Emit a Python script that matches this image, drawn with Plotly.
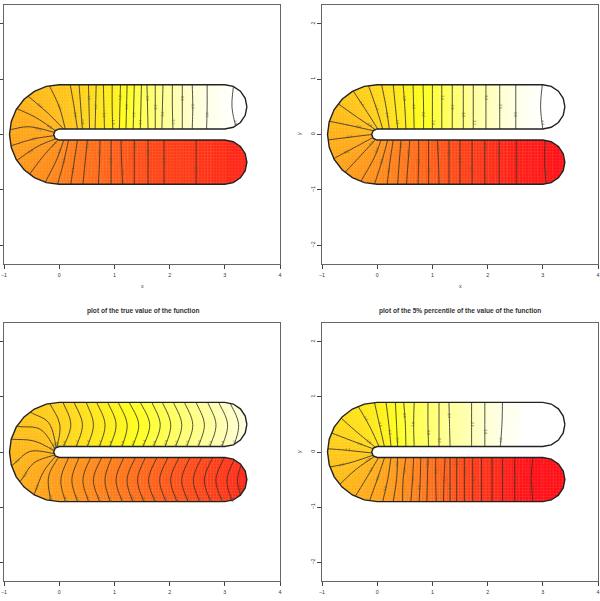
import math
import numpy as np
import plotly.graph_objects as go

# Outline of the horseshoe domain, starting at the tip of the upper arm and going clockwise.
OUTLINE = [
    (3.4, 0.5), (3.370, 0.347), (3.283, 0.217), (3.153, 0.130), (3.0, 0.1),
    (0.0, 0.1), (-0.071, 0.071), (-0.1, 0.0), (-0.071, -0.071), (0.0, -0.1),
    (3.0, -0.1), (3.153, -0.130), (3.283, -0.217), (3.370, -0.347), (3.4, -0.5),
    (3.370, -0.653), (3.283, -0.783), (3.153, -0.870), (3.0, -0.9),
    (0.0, -0.9), (-0.233, -0.869), (-0.45, -0.779), (-0.636, -0.636), (-0.779, -0.45),
    (-0.869, -0.233), (-0.9, 0.0), (-0.869, 0.233), (-0.779, 0.45), (-0.636, 0.636),
    (-0.45, 0.779), (-0.233, 0.869), (0.0, 0.9),
    (3.0, 0.9), (3.153, 0.870), (3.283, 0.783), (3.370, 0.653), (3.4, 0.5),
]

# Arm contours are (x at the outer edge, x on the centre line, x at the slit edge).
ARM_Y = (0.9, 0.5, 0.1)

# Upper left panel
P1_BOTTOM = [(2.48, 2.48, 2.48), (1.90, 1.90, 1.90), (1.61, 1.61, 1.61), (1.36, 1.36, 1.36),
             (1.15, 1.13, 1.12), (0.94, 0.94, 0.94), (0.71, 0.73, 0.74), (0.43, 0.47, 0.51),
             (0.21, 0.27, 0.33), (-0.03, 0.08, 0.17)]
P1_ARC = [
    [(-0.24, -0.84), (-0.04, -0.44), (0.08, -0.11)],
    [(-0.53, -0.71), (-0.28, -0.38), (-0.03, -0.11)],
    [(-0.74, -0.45), (-0.40, -0.22), (-0.07, -0.08)],
    [(-0.86, -0.20), (-0.46, -0.08), (-0.09, -0.02)],
    [(-0.87, 0.09), (-0.56, 0.14), (-0.09, 0.04)],
    [(-0.75, 0.46), (-0.43, 0.31), (-0.07, 0.07)],
    [(-0.56, 0.69), (-0.22, 0.40), (0.05, 0.13)],
    [(-0.18, 0.89), (0.0, 0.50), (0.11, 0.10)],
]
P1_TOP = [(0.20, 0.27, 0.33), (0.36, 0.39, 0.42), (0.53, 0.54, 0.55), (0.67, 0.66, 0.65),
          (0.80, 0.81, 0.82), (0.96, 0.96, 0.97), (1.11, 1.10, 1.09), (1.23, 1.22, 1.21),
          (1.36, 1.35, 1.34), (1.49, 1.48, 1.47), (1.59, 1.60, 1.61), (1.74, 1.74, 1.74),
          (1.88, 1.87, 1.86), (2.05, 2.05, 2.06), (2.23, 2.23, 2.23), (2.41, 2.42, 2.41),
          (2.68, 2.68, 2.67), (3.16, 3.13, 3.21)]
P1_LEVELS = [-3.0, -2.8, -2.6, -2.4, -2.2, -2.0, -1.8, -1.6, -1.4, -1.2, -1.0, -0.8,
             -0.6, -0.4, -0.2, 0.0, 0.2, 0.4, 0.6, 0.8, 1.0, 1.2, 1.4, 1.6, 1.8, 2.0,
             2.2, 2.4, 2.6, 2.8, 3.0, 3.2, 3.4, 3.6, 3.8, 4.0]
P1_ZLIM = (-4.0, 4.0)

# Upper right panel
P2_BOTTOM = [(3.06, 3.03, 3.04), (2.52, 2.52, 2.52), (2.21, 2.21, 2.21), (1.95, 1.95, 1.95),
             (1.72, 1.72, 1.72), (1.50, 1.50, 1.50), (1.30, 1.30, 1.30), (1.12, 1.11, 1.09),
             (0.93, 0.93, 0.93), (0.74, 0.75, 0.75), (0.53, 0.56, 0.59), (0.37, 0.40, 0.43),
             (0.18, 0.23, 0.29), (-0.05, 0.08, 0.19)]
P2_ARC = [
    [(-0.28, -0.82), (-0.05, -0.41), (0.07, -0.10)],
    [(-0.56, -0.66), (-0.27, -0.35), (-0.02, -0.08)],
    [(-0.76, -0.42), (-0.42, -0.24), (-0.07, -0.05)],
    [(-0.90, -0.10), (-0.51, -0.05), (-0.10, 0.0)],
    [(-0.87, 0.24), (-0.48, 0.16), (-0.08, 0.07)],
    [(-0.70, 0.55), (-0.36, 0.31), (-0.05, 0.10)],
    [(-0.43, 0.78), (-0.18, 0.40), (0.01, 0.10)],
    [(-0.16, 0.89), (-0.02, 0.49), (0.10, 0.10)],
]
P2_TOP = [(0.08, 0.16, 0.22), (0.29, 0.33, 0.37), (0.47, 0.50, 0.52), (0.65, 0.66, 0.67),
          (0.83, 0.84, 0.84), (1.00, 1.00, 1.00), (1.17, 1.17, 1.17), (1.36, 1.36, 1.36),
          (1.56, 1.56, 1.56), (1.74, 1.74, 1.74), (1.97, 1.97, 1.97), (2.22, 2.22, 2.22),
          (2.51, 2.51, 2.51), (2.99, 2.96, 3.00)]
P2_LEVELS = P1_LEVELS
P2_ZLIM = (-3.15, 3.99)

# Lower left panel: the true function, whose contours arch across the arms
P3_BOTTOM = [(3.32, 3.23, 3.35), (3.13, 3.04, 3.19), (2.95, 2.84, 2.99), (2.74, 2.63, 2.78),
             (2.54, 2.43, 2.58), (2.33, 2.22, 2.37), (2.13, 2.02, 2.17), (1.93, 1.82, 1.97),
             (1.73, 1.62, 1.77), (1.53, 1.42, 1.56), (1.33, 1.23, 1.38), (1.14, 1.03, 1.17),
             (0.92, 0.83, 0.95), (0.73, 0.62, 0.77), (0.53, 0.43, 0.57), (0.33, 0.23, 0.36),
             (0.11, 0.03, 0.17)]
P3_ARC = [
    [(-0.16, -0.87), (-0.19, -0.44), (-0.01, -0.09)],
    [(-0.43, -0.71), (-0.28, -0.35), (-0.05, -0.06)],
    [(-0.66, -0.47), (-0.46, -0.20), (-0.07, -0.05)],
    [(-0.80, -0.20), (-0.53, 0.01), (-0.09, -0.03)],
    [(-0.84, 0.23), (-0.46, 0.20), (-0.08, 0.02)],
    [(-0.71, 0.46), (-0.34, 0.41), (-0.07, 0.05)],
    [(-0.48, 0.70), (-0.19, 0.53), (-0.05, 0.06)],
    [(-0.16, 0.86), (0.01, 0.50), (-0.04, 0.08)],
]
P3_TOP = [(0.07, 0.21, 0.08), (0.27, 0.42, 0.31), (0.49, 0.62, 0.51), (0.68, 0.83, 0.73),
          (0.88, 1.03, 0.92), (1.07, 1.23, 1.14), (1.27, 1.44, 1.33), (1.47, 1.64, 1.52),
          (1.68, 1.83, 1.71), (1.87, 2.02, 1.92), (2.07, 2.22, 2.11), (2.27, 2.42, 2.31),
          (2.48, 2.63, 2.52), (2.69, 2.84, 2.73), (2.89, 3.05, 2.95), (3.09, 3.25, 3.16)]
P3_LEVELS = [-4.0, -3.8, -3.6, -3.4, -3.2, -3.0, -2.8, -2.6, -2.4, -2.2, -2.0, -1.8, -1.6,
             -1.4, -1.2, -1.0, -0.8, -0.6, -0.4, -0.2, 0.0, 0.2, 0.4, 0.6, 0.8, 1.0, 1.2,
             1.4, 1.6, 1.8, 2.0, 2.2, 2.4, 2.6, 2.8, 3.0, 3.2, 3.4, 3.6, 3.8, 4.0]
P3_ZLIM = (-4.78, 4.52)

# Lower right panel: the 5% percentile
P4_BOTTOM = [(2.82, 2.79, 2.82), (2.49, 2.49, 2.49), (2.27, 2.27, 2.27), (2.08, 2.08, 2.08),
             (1.89, 1.89, 1.89), (1.73, 1.73, 1.73), (1.58, 1.58, 1.58), (1.44, 1.44, 1.44),
             (1.32, 1.32, 1.32), (1.20, 1.21, 1.23), (1.07, 1.06, 1.06), (0.90, 0.91, 0.92),
             (0.76, 0.78, 0.79), (0.61, 0.64, 0.66), (0.46, 0.47, 0.52), (0.29, 0.35, 0.37),
             (0.10, 0.19, 0.25)]
P4_ARC = [
    [(-0.14, -0.89), (0.01, -0.47), (0.13, -0.11)],
    [(-0.40, -0.81), (-0.18, -0.45), (0.02, -0.11)],
    [(-0.68, -0.59), (-0.39, -0.32), (-0.05, -0.08)],
    [(-0.84, -0.27), (-0.51, -0.20), (-0.08, -0.06)],
    [(-0.90, 0.06), (-0.54, 0.03), (-0.08, -0.02)],
    [(-0.84, 0.35), (-0.45, 0.20), (-0.08, 0.06)],
    [(-0.66, 0.62), (-0.39, 0.38), (-0.05, 0.10)],
    [(-0.34, 0.82), (-0.14, 0.47), (0.02, 0.13)],
]
P4_TOP = [(-0.05, 0.04, 0.13), (0.16, 0.21, 0.25), (0.33, 0.35, 0.37), (0.48, 0.51, 0.52),
          (0.67, 0.66, 0.67), (0.92, 0.92, 0.93), (1.12, 1.12, 1.12), (1.30, 1.31, 1.32),
          (1.71, 1.71, 1.71), (1.95, 1.95, 1.95), (2.27, 2.26, 2.23)]
P4_LEVELS = P1_LEVELS
P4_ZLIM = (-2.96, 4.18)

X_TICKS = [-1, 0, 1, 2, 3, 4]
Y_TICKS = [-2, -1, 0, 1, 2]
TITLE_LOWER_LEFT = "plot of the true value of the function"
TITLE_LOWER_RIGHT = "plot of the 5% percentile of the value of the function"

W, H = 600, 601
Y_MAX = 2.34
FRAMES = [(4, 280, 5, 264), (322, 598, 5, 264), (4, 280, 323, 581), (322, 598, 323, 581)]
PANELS = [
    (P1_BOTTOM, P1_ARC, P1_TOP, P1_LEVELS, P1_ZLIM),
    (P2_BOTTOM, P2_ARC, P2_TOP, P2_LEVELS, P2_ZLIM),
    (P3_BOTTOM, P3_ARC, P3_TOP, P3_LEVELS, P3_ZLIM),
    (P4_BOTTOM, P4_ARC, P4_TOP, P4_LEVELS, P4_ZLIM),
]
SHADE_STEPS = 4
END_SHADE = 0.08
SMOOTH = 1.1


def heat(t):
    """Red through yellow to white, like R's heat.colors."""
    t = min(max(t, 0.0), 1.0)
    if t < 0.75:
        return f"rgb(255,{round(12 + 243 * t / 0.75)},18)"
    return f"rgb(255,255,{round(18 + 237 * (t - 0.75) / 0.25)})"


def arm_line(xs, sign):
    return [(x, sign * y) for x, y in zip(xs, ARM_Y)]


def overshoot(line, outer=0.1, inner=0.05):
    """Run a contour slightly past the outline; the white mask trims it back."""
    def step(a, b, d):
        n = math.hypot(b[0] - a[0], b[1] - a[1]) or 1.0
        return (b[0] + (b[0] - a[0]) / n * d, b[1] + (b[1] - a[1]) / n * d)
    return [step(line[1], line[0], outer)] + list(line) + [step(line[-2], line[-1], inner)]


def blend(a, b, f):
    return [(p[0] + (q[0] - p[0]) * f, p[1] + (q[1] - p[1]) * f) for p, q in zip(a, b)]


fig = go.Figure()
annotations = []
layout_axes = {}

for idx, ((bottom, arc, top, levels, zlim), (x0, x1, y0, y1)) in enumerate(zip(PANELS, FRAMES)):
    suffix = "" if idx == 0 else str(idx + 1)
    xref, yref = f"x{suffix}", f"y{suffix}"
    right = idx in (1, 3)
    layout_axes[f"xaxis{suffix}"] = dict(
        domain=[x0 / W, x1 / W], range=[-1, 4], anchor=yref, tickvals=X_TICKS, automargin=False,
        ticks="outside", ticklen=4, tickwidth=1, tickcolor="#444", showgrid=False,
        zeroline=False, showline=True, mirror=True, linecolor="#666", linewidth=1,
        ticklabelstandoff=2, tickfont=dict(size=5.3, color="#333", family="Liberation Sans"),
    )
    layout_axes[f"yaxis{suffix}"] = dict(
        domain=[1 - y1 / H, 1 - y0 / H], range=[-Y_MAX, Y_MAX], anchor=xref, tickvals=Y_TICKS,
        automargin=False, ticks="outside", ticklen=4, tickwidth=1, tickcolor="#444", showgrid=False,
        zeroline=False, showline=True, mirror=True, linecolor="#666", linewidth=1,
        showticklabels=right, tickangle=-90,
        tickfont=dict(size=5.3, color="#333", family="Liberation Sans"),
    )

    lines = [arm_line(c, -1) for c in bottom] + [list(c) for c in arc] + [arm_line(c, 1) for c in top]
    n_low, n_arc = len(bottom), len(arc)
    shade = [(v - zlim[0]) / (zlim[1] - zlim[0]) for v in levels]
    drawn = [overshoot(c) for c in lines]

    # Colour between neighbouring contours, shaded in narrow steps so the ramp reads as smooth.
    low_end = [(3.6, y) for y in (-1.0, -0.9, -0.5, -0.1, -0.05)]
    top_end = [(3.6, y) for y in (1.0, 0.9, 0.5, 0.1, 0.05)]
    ring = [low_end] + drawn + [top_end]
    ring_shade = [shade[0] - END_SHADE] + shade + [shade[-1] + END_SHADE]
    for k in range(len(ring) - 1):
        for s in range(SHADE_STEPS):
            edge_a = blend(ring[k], ring[k + 1], s / SHADE_STEPS)
            edge_b = blend(ring[k], ring[k + 1], (s + 1) / SHADE_STEPS)
            poly = edge_a + edge_b[::-1]
            colour = heat(ring_shade[k] + (ring_shade[k + 1] - ring_shade[k]) * (s + 0.5) / SHADE_STEPS)
            xs, ys = zip(*poly)
            fig.add_trace(go.Scatter(x=xs, y=ys, mode="lines", fill="toself", fillcolor=colour,
                                     line=dict(width=0.6, color=colour, shape="spline", smoothing=SMOOTH),
                                     hoverinfo="skip", xaxis=xref, yaxis=yref, showlegend=False))

    # Faint lattice left by the coarse image grid underneath the contours.
    gx, gy = [], []
    for gv in np.arange(-0.92, 3.42, 0.0555):
        gx += [float(gv), float(gv), None]
        gy += [-0.92, 0.92, None]
    for gv in np.arange(-0.92, 0.92, 0.0555):
        gx += [-0.92, 3.42, None]
        gy += [float(gv), float(gv), None]
    fig.add_trace(go.Scatter(x=gx, y=gy, mode="lines", line=dict(color="white", width=0.7),
                             opacity=0.13, hoverinfo="skip", xaxis=xref, yaxis=yref, showlegend=False))

    # Contour lines
    cx, cy = [], []
    for c in drawn:
        cx += [p[0] for p in c] + [None]
        cy += [p[1] for p in c] + [None]
    fig.add_trace(go.Scatter(x=cx, y=cy, mode="lines",
                             line=dict(color="#33332a", width=0.85, shape="spline", smoothing=SMOOTH),
                             hoverinfo="skip", xaxis=xref, yaxis=yref, showlegend=False))

    # White surround with a keyhole cut along the outline
    mx = [4.0, 4.0, -1.0, -1.0, 4.0, 4.0] + [p[0] for p in OUTLINE] + [4.0]
    my = [0.5, Y_MAX, Y_MAX, -Y_MAX, -Y_MAX, 0.5] + [p[1] for p in OUTLINE] + [0.5]
    fig.add_trace(go.Scatter(x=mx, y=my, mode="lines", fill="toself", fillcolor="white",
                             line=dict(width=0), hoverinfo="skip", xaxis=xref, yaxis=yref, showlegend=False))
    fig.add_trace(go.Scatter(x=[p[0] for p in OUTLINE], y=[p[1] for p in OUTLINE], mode="lines",
                             line=dict(color="#222", width=1.4), hoverinfo="skip",
                             xaxis=xref, yaxis=yref, showlegend=False))

    # Contour labels, set along the line
    for j, (c, v) in enumerate(zip(lines, levels)):
        if idx == 2 and j > 0:
            # the true function carries its labels towards the arm edges
            if j < n_low + n_arc // 2:
                a, b = c[0], c[1]
                share = 0.15
            else:
                a, b = c[-2], c[-1]
                share = 0.85
        else:
            a, b = c[0], c[1]
            share = (0.6, 1.0, 1.35, 1.7)[j % 4]
            if share > 1.0:
                a, b = c[1], c[2]
                share -= 1.0
        px, py = a[0] + (b[0] - a[0]) * share, a[1] + (b[1] - a[1]) * share
        angle = -math.degrees(math.atan2(b[1] - a[1], b[0] - a[0]))
        if angle > 90:
            angle -= 180
        elif angle < -90:
            angle += 180
        annotations.append(dict(x=px, y=py, xref=xref, yref=yref, text=f"{v:.1f}".replace("-", "\u2212"),
                                showarrow=False, textangle=angle,
                                font=dict(size=3.6, color="#5a5a38", family="Liberation Sans")))


def page_text(x, y, text, size=5.3, bold=False, angle=0):
    annotations.append(dict(x=x / W, y=1 - y / H, xref="paper", yref="paper", text=f"<b>{text}</b>" if bold else text,
                            showarrow=False, textangle=angle, xanchor="center", yanchor="middle",
                            font=dict(size=size, color="#333", family="Liberation Sans")))


page_text(142, 286, "x")
page_text(460, 286, "x")
page_text(299, 134, "y", angle=-90)
page_text(299, 452, "y", angle=-90)
page_text(143, 311, TITLE_LOWER_LEFT, size=6.6, bold=True)
page_text(460, 311, TITLE_LOWER_RIGHT, size=6.6, bold=True)

fig.update_layout(width=W, height=H, margin=dict(l=0, r=0, t=0, b=0), paper_bgcolor="white",
                  plot_bgcolor="white", showlegend=False, annotations=annotations, **layout_axes)
fig.write_html("out.html")
